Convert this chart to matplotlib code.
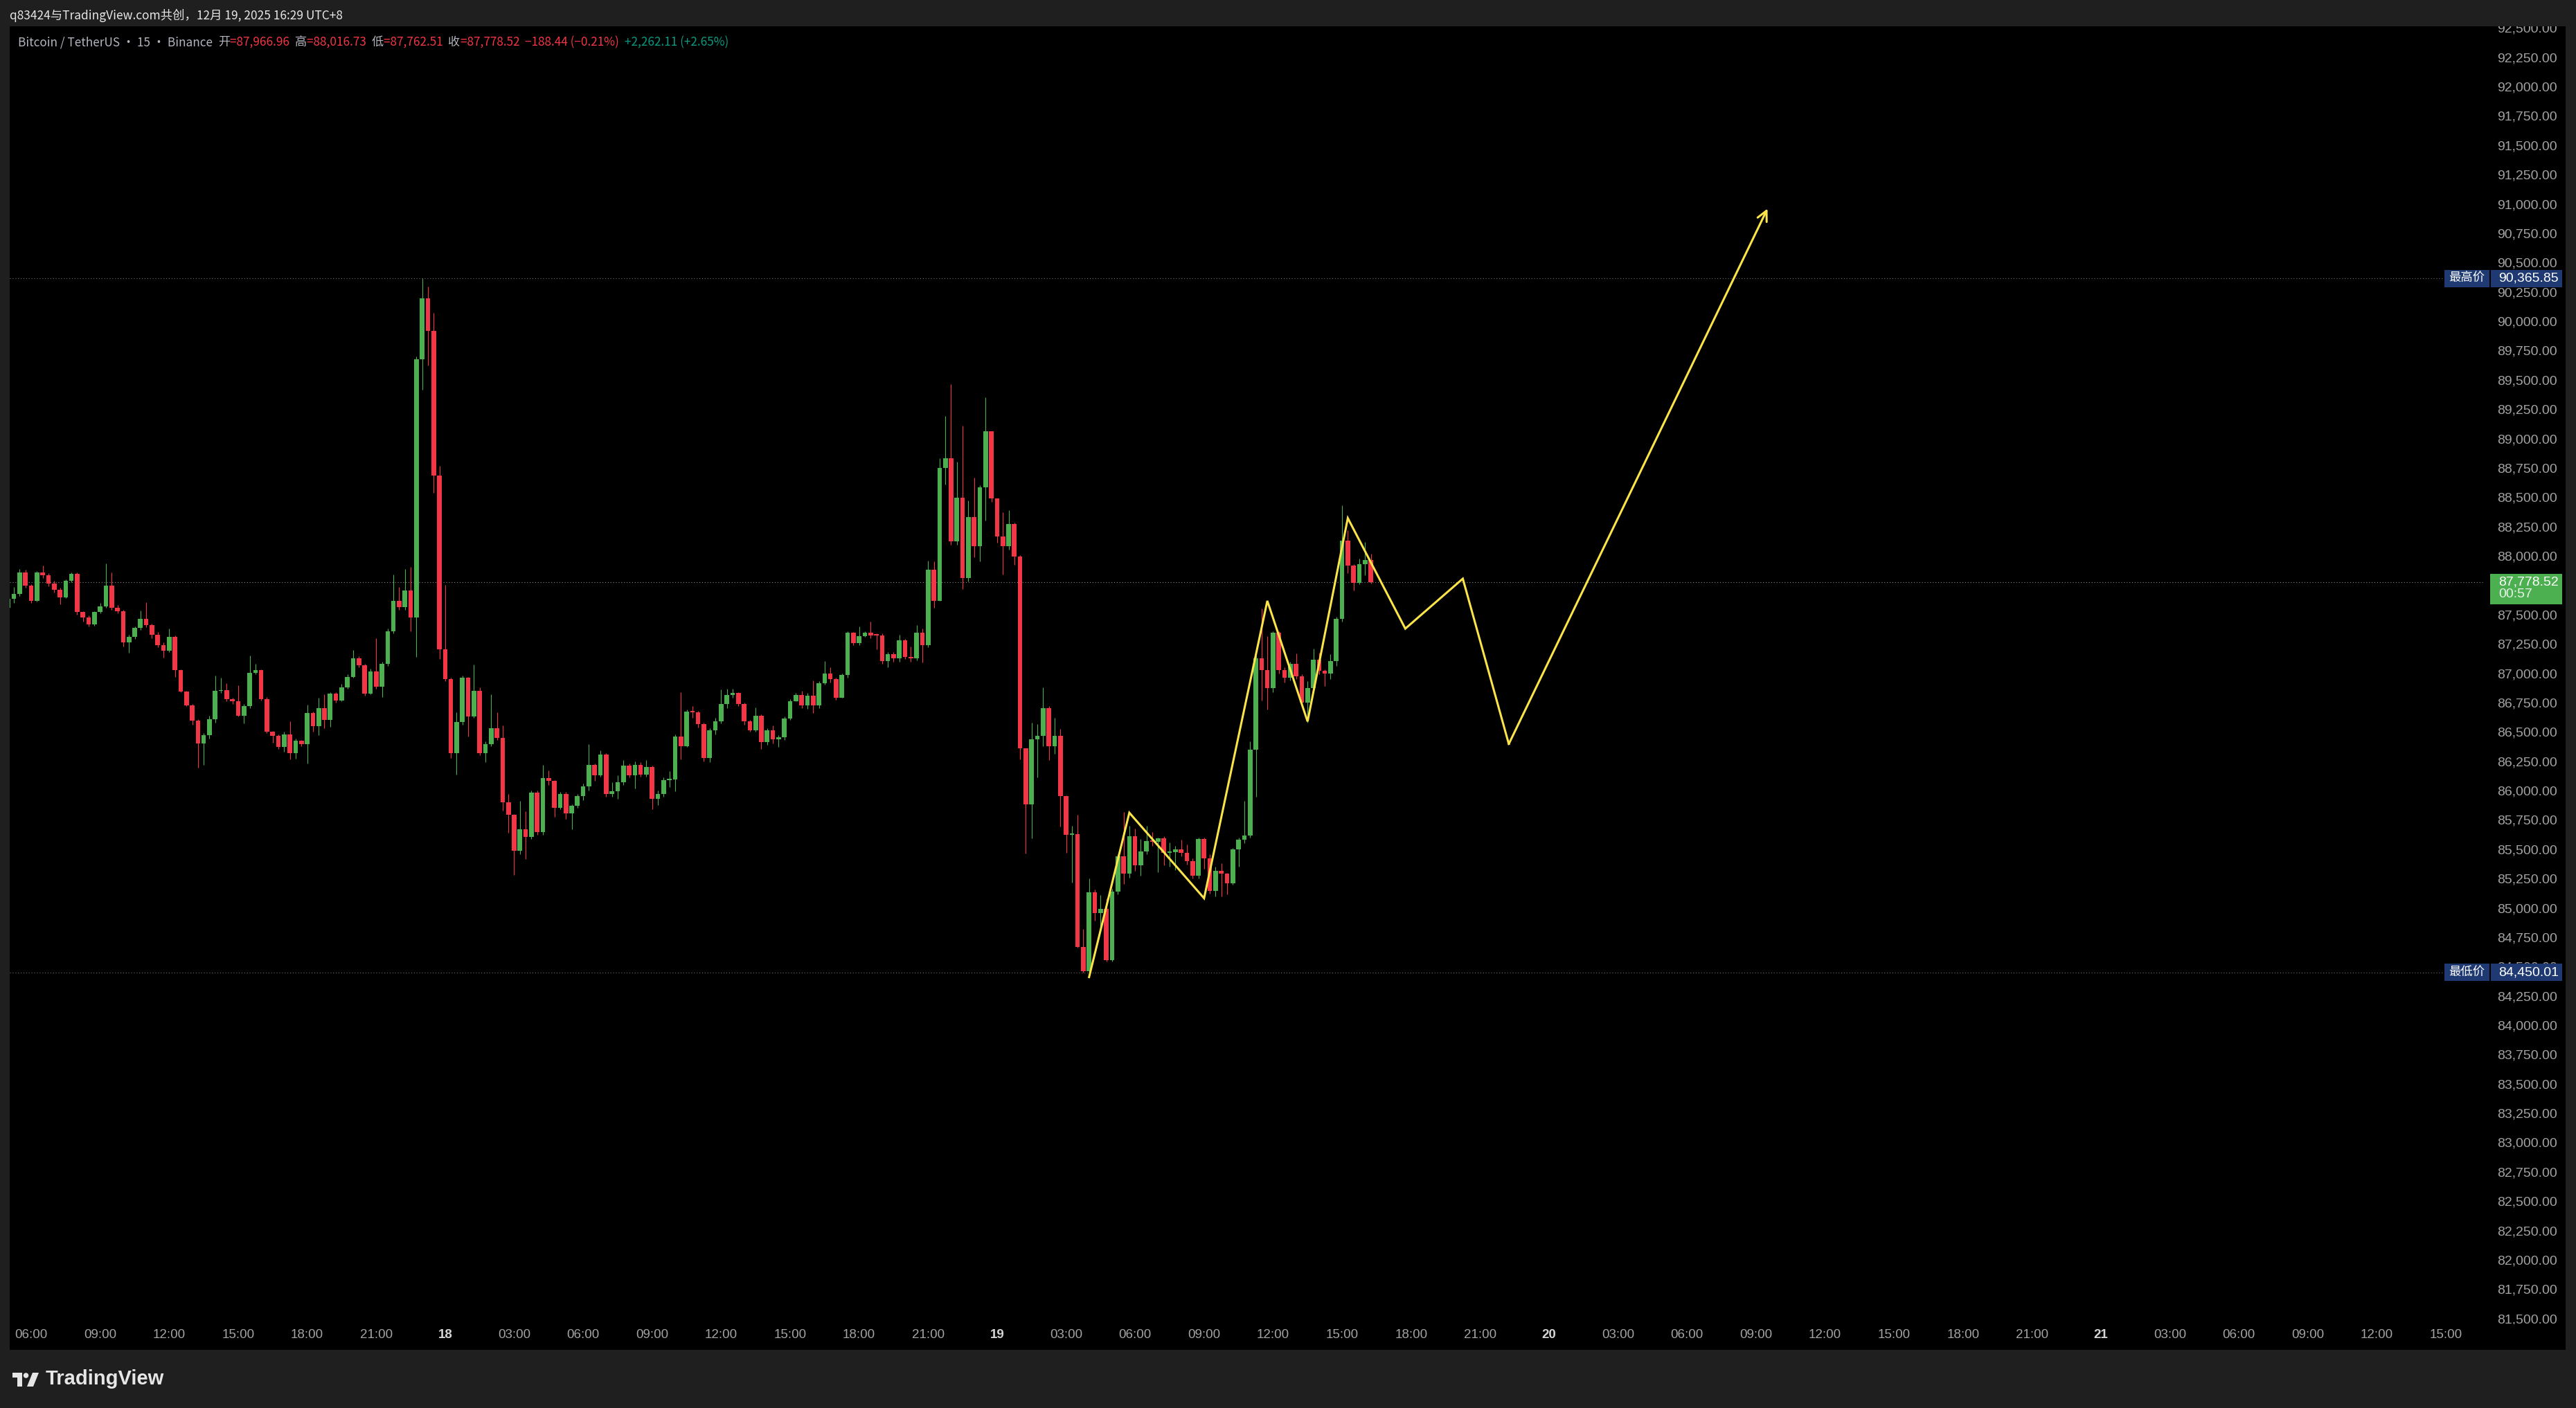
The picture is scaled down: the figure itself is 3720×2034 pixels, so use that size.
import numpy as np
import pandas as pd
import matplotlib
matplotlib.use("Agg")
import matplotlib.pyplot as plt
from matplotlib.patches import Rectangle, Polygon, Ellipse
from matplotlib.ticker import FuncFormatter
from matplotlib.transforms import blended_transform_factory

W, H = 3720, 2034

# ---- data (BTCUSDT 15m, Binance) ----
first_open = 87556
closes = [
    87635, 87674, 87857, 87749, 87619, 87857, 87837, 87762, 87713, 87648,
    87786, 87845, 87520, 87477, 87418, 87520, 87572, 87747, 87560, 87530,
    87261, 87310, 87385, 87461, 87408, 87326, 87241, 87192, 87310, 87029,
    86844, 86728, 86598, 86402, 86470, 86606, 86848, 86854, 86779, 86760,
    86638, 86720, 87001, 87025, 86781, 86500, 86468, 86374, 86478, 86317,
    86425, 86396, 86661, 86547, 86700, 86602, 86826, 86769, 86877, 86966,
    87129, 87070, 86828, 87015, 86883, 87078, 87359, 87615, 87566, 87703,
    87477, 89674, 90196, 89920, 88687, 87205, 86949, 86319, 86585, 86959,
    86632, 86847, 86319, 86397, 86533, 86448, 85900, 85791, 85484, 85672,
    85604, 85985, 85645, 86104, 86080, 85852, 85968, 85808, 85869, 85951,
    86036, 86217, 86132, 86309, 85968, 85995, 86070, 86210, 86132, 86217,
    86138, 86200, 85927, 85968, 86091, 86095, 86462, 86380, 86670, 86668,
    86568, 86275, 86513, 86591, 86735, 86813, 86830, 86738, 86591, 86516,
    86636, 86411, 86513, 86438, 86455, 86615, 86762, 86813, 86728, 86806,
    86728, 86915, 87000, 86949, 86789, 86983, 87348, 87256, 87314, 87348,
    87324, 87322, 87105, 87162, 87125, 87282, 87139, 87125, 87345, 87239,
    87883, 87619, 88749, 88835, 88126, 88497, 87811, 88332, 88080, 88583,
    89061, 88492, 88168, 88080, 88269, 87997, 86358, 85880, 86438, 86467,
    86701, 86375, 86467, 85952, 85625, 85629, 84669, 84458, 85133, 84954,
    84990, 84557, 85137, 85442, 85294, 85609, 85363, 85481, 85569, 85563,
    85595, 85471, 85477, 85497, 85471, 85396, 85274, 85587, 85422, 85143,
    85314, 85294, 85212, 85501, 85579, 85619, 86346, 87127, 87027, 86871,
    87344, 87027, 86964, 87081, 86976, 86747, 86871, 87116, 87022, 86999,
    87104, 87465, 88130, 87920, 87773, 87932, 87966.96, 87778.52,
]
highs = [
    87650, 87733, 87890, 87884, 87760, 87870, 87916, 87850, 87790, 87730,
    87800, 87860, 87860, 87530, 87490, 87530, 87600, 87935, 87860, 87580,
    87540, 87330, 87400, 87536, 87605, 87420, 87350, 87260, 87379, 87320,
    87030, 86850, 86740, 86610, 86490, 86640, 86980, 86960, 86917, 86790,
    86897, 86740, 87153, 87080, 87030, 86799, 86510, 86480, 86500, 86592,
    86440, 86430, 86730, 86670, 86789, 86823, 86840, 86840, 86910, 86990,
    87196, 87143, 87080, 87040, 87300, 87100, 87380, 87841, 87733, 87886,
    87903, 89700, 90365.85, 90298, 90073, 88765, 87750, 86960, 86667, 86980,
    86970, 87075, 86881, 86420, 86820, 86667, 86557, 85971, 85800, 85910,
    85825, 86000, 86000, 86217, 86170, 86090, 85990, 85990, 85880, 85970,
    86060, 86397, 86230, 86345, 86320, 86070, 86130, 86258, 86230, 86250,
    86240, 86259, 86210, 86000, 86110, 86166, 86480, 86837, 86690, 86720,
    86680, 86580, 86530, 86620, 86864, 86870, 86870, 86840, 86750, 86600,
    86711, 86650, 86530, 86557, 86470, 86630, 86780, 86830, 86847, 86830,
    86939, 86930, 87103, 87051, 86960, 87000, 87360, 87350, 87400, 87360,
    87440, 87340, 87340, 87180, 87180, 87330, 87290, 87230, 87411, 87380,
    87960, 87953, 88830, 89190, 89464, 88803, 89112, 88475, 88669, 88603,
    89350, 89061, 88492, 88374, 88392, 88283, 88005, 86358, 86581, 86567,
    86877, 86720, 86620, 86524, 85960, 85701, 85796, 84822, 85249, 85157,
    85107, 85078, 85160, 85460, 85815, 85697, 85678, 85590, 85697, 85648,
    85600, 85610, 85560, 85530, 85579, 85540, 85420, 85600, 85600, 85460,
    85353, 85383, 85300, 85510, 85600, 85914, 86420, 87150, 87554, 87314,
    87360, 87360, 87050, 87100, 87167, 86990, 86934, 87209, 87174, 87030,
    87162, 87480, 88433, 88216, 87930, 87978, 88118, 88016.73,
]
lows = [
    87540, 87601, 87660, 87730, 87600, 87610, 87812, 87740, 87690, 87589,
    87640, 87775, 87500, 87440, 87400, 87405, 87510, 87560, 87540, 87510,
    87230, 87172, 87290, 87370, 87390, 87300, 87220, 87133, 87180, 86966,
    86840, 86720, 86560, 86193, 86219, 86445, 86580, 86830, 86760, 86740,
    86630, 86573, 86700, 86990, 86770, 86490, 86410, 86356, 86330, 86268,
    86270, 86380, 86229, 86504, 86474, 86530, 86543, 86750, 86760, 86870,
    86960, 87050, 86810, 86818, 86870, 86799, 87060, 87340, 87540, 87540,
    87358, 87137, 89419, 89623, 88540, 87120, 86930, 86275, 86138, 86560,
    86462, 86620, 86300, 86241, 86380, 86430, 85830, 85638, 85280, 85460,
    85416, 85590, 85620, 85620, 86050, 85774, 85840, 85757, 85671, 85850,
    85920, 86000, 86081, 86120, 85950, 85950, 85927, 86050, 86110, 86019,
    86120, 86120, 85842, 85876, 85950, 86030, 85995, 86268, 86370, 86620,
    86540, 86250, 86240, 86479, 86570, 86700, 86790, 86720, 86560, 86500,
    86500, 86353, 86387, 86400, 86370, 86430, 86600, 86760, 86700, 86694,
    86660, 86700, 86900, 86920, 86772, 86790, 86960, 87240, 87240, 87310,
    87300, 87205, 87080, 87051, 87100, 87100, 87120, 87100, 87110, 87094,
    87220, 87559, 87620, 88606, 88097, 88097, 87717, 87780, 87988, 87954,
    88303, 88463, 88110, 87840, 88054, 87925, 86267, 85466, 85595, 86110,
    86380, 86261, 86310, 85695, 85471, 85216, 84660, 84450.01, 84455, 84891,
    84793, 84540, 84541, 85117, 85206, 85255, 85314, 85274, 85460, 85530,
    85304, 85363, 85353, 85324, 85440, 85370, 85250, 85250, 85334, 85120,
    85098, 85098, 85117, 85196, 85353, 85550, 85600, 85950, 86766, 86691,
    86836, 87000, 86920, 86940, 86950, 86720, 86579, 86860, 86990, 86894,
    86952, 87060, 87440, 87850, 87706, 87760, 87838, 87762.51,
]

# hand-drawn projection (hours after 2025-12-17 00:00, price)
path_hours = [52.0, 53.75, 57.0, 59.75, 61.5, 63.25, 65.75, 68.25, 70.25, 81.5]
path_prices = [84410, 85811, 85082, 87617, 86589, 88322, 87380, 87806, 86397, 90960]

tick_labels = ["06:00", "09:00", "12:00", "15:00", "18:00", "21:00", "18",
               "03:00", "06:00", "09:00", "12:00", "15:00", "18:00", "21:00", "19",
               "03:00", "06:00", "09:00", "12:00", "15:00", "18:00", "21:00", "20",
               "03:00", "06:00", "09:00", "12:00", "15:00", "18:00", "21:00", "21",
               "03:00", "06:00", "09:00", "12:00", "15:00"]
day_labels = ["18", "19", "20", "21"]

high_price = 90365.85
low_price = 84450.01
last_price = 87778.52
countdown = "00:57"

header = "q83424与TradingView.com共创，12月 19, 2025 16:29 UTC+8"
legend_parts = [
    ("Bitcoin / TetherUS · 15 · Binance  ", "grey"),
    ("开", "grey"), ("=87,966.96  ", "red"),
    ("高", "grey"), ("=88,016.73  ", "red"),
    ("低", "grey"), ("=87,762.51  ", "red"),
    ("收", "grey"), ("=87,778.52  ", "red"),
    ("−188.44 (−0.21%)  ", "red"),
    ("+2,262.11 (+2.65%)", "green"),
]

UP = "#4caf50"
DOWN = "#f23645"
TEXT = "#a3a3a3"
LABEL_BLUE = "#1f3a73"
YELLOW = "#fbe34a"
CJK = ["Noto Sans CJK SC", "DejaVu Sans"]
NUM = ["Liberation Sans", "DejaVu Sans"]


def fx(px):
    return px / W


def fy(py):
    return 1 - py / H


fig = plt.figure(figsize=(W / 100, H / 100), dpi=100)
fig.patch.set_facecolor("#1f1f1f")

# black chart panel
fig.add_artist(Rectangle((fx(14), fy(1950)), fx(3705) - fx(14), fy(38) - fy(1950),
                         transform=fig.transFigure, facecolor="#000000", edgecolor="none", zorder=0))

ax = fig.add_axes([fx(14), fy(1912), fx(3587) - fx(14), fy(38) - fy(1912)])
ax.set_facecolor("#000000")
for s in ax.spines.values():
    s.set_visible(False)

# candles
opens = np.array([first_open] + closes[:-1], dtype=float)
closes_a = np.array(closes, dtype=float)
highs_a = np.maximum(np.array(highs, dtype=float), np.maximum(opens, closes_a))
lows_a = np.minimum(np.array(lows, dtype=float), np.minimum(opens, closes_a))
times = pd.date_range("2025-12-17 05:00", periods=len(closes), freq="15min")
x = ((times - pd.Timestamp("2025-12-17")).total_seconds() / 3600).to_numpy()
up = closes_a >= opens
colors = np.where(up, UP, DOWN)

ax.vlines(x, lows_a, highs_a, colors=colors, linewidth=0.8, zorder=2)
body_low = np.minimum(opens, closes_a)
body_h = np.maximum(np.abs(closes_a - opens), 10)
ax.bar(x, body_h, bottom=body_low, width=0.2, color=colors, linewidth=0, zorder=3)

# projection path
ax.plot(path_hours[:-1], path_prices[:-1], color=YELLOW, lw=2.2, zorder=4,
        solid_joinstyle="miter", clip_on=False)
ax.annotate("", xy=(path_hours[-1], path_prices[-1]), xytext=(path_hours[-2], path_prices[-2]),
            arrowprops=dict(arrowstyle="->", color=YELLOW, lw=2.2, mutation_scale=26,
                            shrinkA=0, shrinkB=0), zorder=4)

ax.set_xlim(5.065, 112.65)
ax.set_ylim(81457, 92514)

# price scale on the right
ax.yaxis.tick_right()
ax.set_yticks(np.arange(81500, 92501, 250))
ax.yaxis.set_major_formatter(FuncFormatter(lambda v, p: f"{v:,.2f}"))
ax.tick_params(axis="y", length=0, pad=14, labelsize=14, labelcolor=TEXT)
for lab in ax.get_yticklabels():
    lab.set_family(NUM)

# time scale
ax.set_xticks(list(range(6, 112, 3)))
ax.set_xticklabels(tick_labels)
ax.tick_params(axis="x", length=0, pad=6, labelsize=13.5, labelcolor=TEXT)
for lab in ax.get_xticklabels():
    lab.set_family(NUM)
    if lab.get_text() in day_labels:
        lab.set_fontweight("bold")
        lab.set_color("#d4d4d4")

# high / low / last price lines
ax.axhline(high_price, xmin=0, xmax=(3530 - 14) / (3587 - 14), color="#6e6e6e",
           lw=0.8, ls=(0, (1, 2.5)), zorder=1)
ax.axhline(low_price, xmin=0, xmax=(3530 - 14) / (3587 - 14), color="#6e6e6e",
           lw=0.8, ls=(0, (1, 2.5)), zorder=1)
ax.axhline(last_price, xmin=0, xmax=1, color="#8c8c8c", lw=0.8, ls=(0, (1, 2.5)), zorder=1)

bt = blended_transform_factory(fig.transFigure, ax.transData)
ppx = 5.9  # price units per pixel

for price, name in [(high_price, "最高价"), (low_price, "最低价")]:
    fig.add_artist(Rectangle((fx(3530), price - 12.5 * ppx), fx(3595) - fx(3530), 25 * ppx,
                             transform=bt, facecolor=LABEL_BLUE, edgecolor="none", zorder=10))
    fig.add_artist(Rectangle((fx(3597), price - 12.5 * ppx), fx(3700) - fx(3597), 25 * ppx,
                             transform=bt, facecolor=LABEL_BLUE, edgecolor="none", zorder=10))
    fig.text(fx(3562), price, name, transform=bt, ha="center", va="center",
             family=CJK, fontsize=12.5, color="#ffffff", zorder=11)
    fig.text(fx(3608), price, f"{price:,.2f}", transform=bt, ha="left", va="center",
             family=NUM, fontsize=14, color="#ffffff", zorder=11)

fig.add_artist(Rectangle((fx(3596), last_price - 32 * ppx), fx(3700) - fx(3596), 44 * ppx,
                         transform=bt, facecolor=UP, edgecolor="none", zorder=10))
fig.text(fx(3608), last_price, f"{last_price:,.2f}", transform=bt, ha="left", va="center",
         family=NUM, fontsize=14, color="#ffffff", zorder=11)
fig.text(fx(3608), last_price - 18 * ppx, countdown, transform=bt, ha="left", va="center",
         family=NUM, fontsize=14, color="#e8f5e9", zorder=11)

# header bar covers the clipped top label, bottom corner covers the clipped bottom label
fig.add_artist(Rectangle((0, fy(38)), 1, 1 - fy(38), transform=fig.transFigure,
                         facecolor="#1f1f1f", edgecolor="none", zorder=5))
fig.add_artist(Rectangle((fx(3590), fy(1950)), fx(3705) - fx(3590), fy(1913) - fy(1950),
                         transform=fig.transFigure, facecolor="#000000", edgecolor="none", zorder=5))

fig.text(fx(14), fy(22), header, family=CJK, fontsize=12.5, color="#e6e6e6",
         va="center", ha="left", zorder=12)

# legend line with coloured pieces
palette = {"grey": "#b2b5be", "red": DOWN, "green": "#089981"}
renderer = fig.canvas.get_renderer()
cur = 26
for txt, c in legend_parts:
    t = fig.text(fx(cur), fy(61), txt, family=CJK, fontsize=12.4, color=palette[c],
                 va="center", ha="left", zorder=12)
    cur += t.get_window_extent(renderer).width

# TradingView logo
logo = "#e6e6e6"
fig.add_artist(Rectangle((fx(18), fy(1990)), fx(32) - fx(18), fy(1983) - fy(1990),
                         transform=fig.transFigure, facecolor=logo, edgecolor="none", zorder=12))
fig.add_artist(Rectangle((fx(25), fy(2003)), fx(32) - fx(25), fy(1983) - fy(2003),
                         transform=fig.transFigure, facecolor=logo, edgecolor="none", zorder=12))
fig.add_artist(Ellipse((fx(37.5), fy(1987)), 7.5 / W, 7.5 / H, transform=fig.transFigure,
                       facecolor=logo, edgecolor="none", zorder=12))
fig.add_artist(Polygon([(fx(47), fy(1983)), (fx(56), fy(1983)), (fx(48), fy(2003)), (fx(39), fy(2003))],
                       closed=True, transform=fig.transFigure, facecolor=logo, edgecolor="none", zorder=12))
fig.text(fx(66), fy(1992), "TradingView", family=NUM, fontsize=21, fontweight="bold",
         color=logo, va="center", ha="left", zorder=12)

fig.savefig("out.png", dpi=100, facecolor=fig.get_facecolor())
